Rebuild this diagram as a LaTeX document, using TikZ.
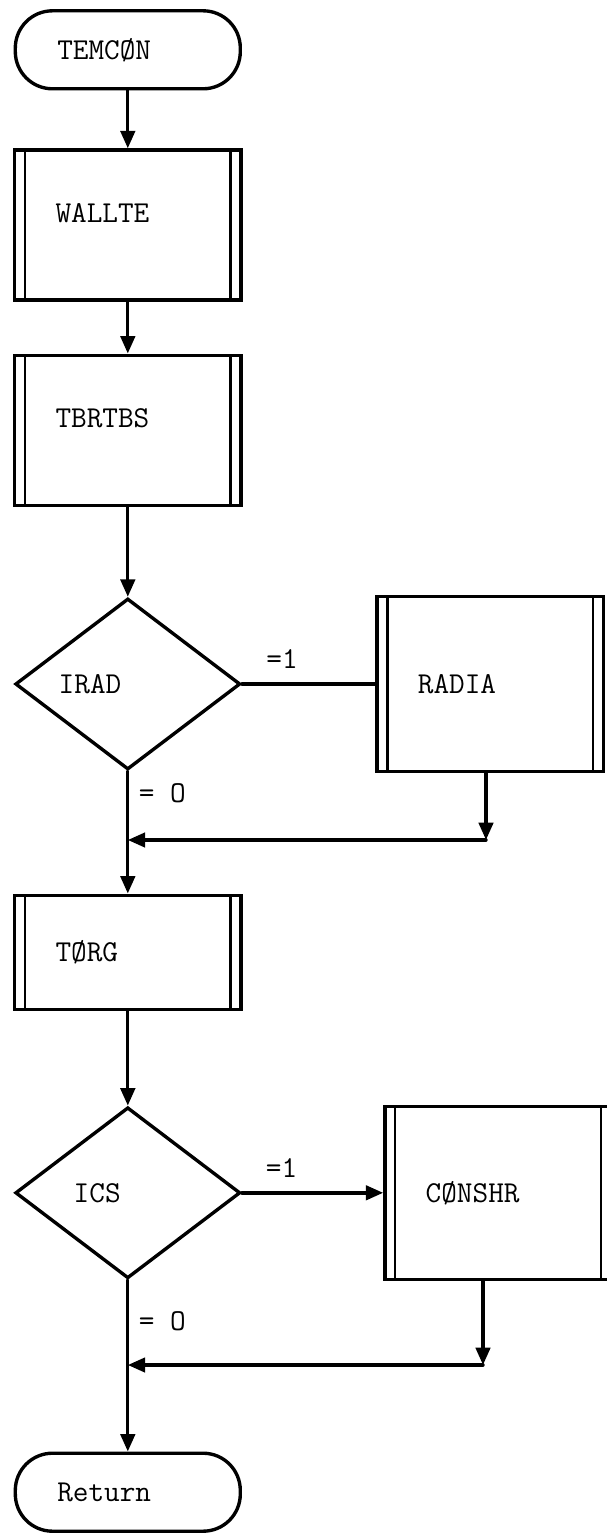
\documentclass[tikz,border=0pt]{standalone}
\usetikzlibrary{shapes.geometric,arrows.meta}
\begin{document}
\begin{tikzpicture}[line cap=round,
    font=\ttfamily\fontsize{14.4}{17}\selectfont,
    >={Triangle[length=0.29cm,width=0.24cm]},
    flow/.style={line width=1.6pt},
    term/.style={draw, line width=1.6pt, rounded corners=0.62cm, minimum height=1.3cm,
      text width=2.35cm, inner xsep=0.7cm, align=left},
    proc/.style={draw, line width=1.6pt, text width=2.41cm, inner xsep=0.68cm, align=left,
      path picture={
        \draw[line width=1.3pt] ([xshift=0.17cm]path picture bounding box.north west)
          -- ([xshift=0.17cm]path picture bounding box.south west);
        \draw[line width=1.3pt] ([xshift=-0.17cm]path picture bounding box.north east)
          -- ([xshift=-0.17cm]path picture bounding box.south east);}},
    decision/.style={draw, diamond, line width=1.6pt, inner sep=0pt,
      minimum width=3.75cm, minimum height=2.85cm},
    lbl/.style={inner sep=1pt}]
  \useasboundingbox (0,0) rectangle (10.1,-25.55);
  % linke Spalte
  \node[term] (start) at (2.13,-0.83) {TEMCØN};
  \node[proc, minimum height=2.5cm, text depth=0.4cm] (wallte) at (2.13,-3.75) {WALLTE};
  \node[proc, minimum height=2.5cm, text depth=0.4cm] (tbrtbs) at (2.13,-7.17) {TBRTBS};
  \node[decision] (irad) at (2.13,-11.4) {};
  \node[lbl] at (1.5,-11.4) {IRAD};
  \node[proc, minimum height=1.9cm] (torg) at (2.13,-15.87) {TØRG};
  \node[decision] (ics) at (2.13,-19.88) {};
  \node[lbl] at (1.62,-19.88) {ICS};
  \node[term] (ret) at (2.13,-24.87) {Return};
  % rechte Spalte
  \node[proc, minimum height=2.92cm] (radia) at (8.17,-11.4) {RADIA};
  \node[proc, minimum height=2.88cm] (conshr) at (8.3,-19.88) {CØNSHR};
  \coordinate (j1) at (8.1,-14.0);
  \coordinate (j2) at (8.05,-22.75);
  % Verbindungen
  \draw[flow,->] (start) -- (wallte);
  \draw[flow,->] (wallte) -- (tbrtbs);
  \draw[flow,->] (tbrtbs) -- (irad);
  \draw[flow] (irad.east) -- node[lbl, above=0.2cm, pos=0.3] {=1} (radia.west);
  \draw[flow,->] (irad) -- node[lbl, right=0.12cm, pos=0.18] {= O} (torg);
  \draw[flow,->] (radia.south -| j1) -- (j1);
  \draw[flow,->] (j1) -- (j1 -| irad.south);
  \draw[flow,->] (torg) -- (ics);
  \draw[flow,->] (ics.east) -- node[lbl, above=0.2cm, pos=0.28] {=1} (conshr.west);
  \draw[flow,->] (ics) -- node[lbl, right=0.12cm, pos=0.24] {= O} (ret);
  \draw[flow,->] (conshr.south -| j2) -- (j2);
  \draw[flow,->] (j2) -- (j2 -| ics.south);
\end{tikzpicture}
\end{document}
